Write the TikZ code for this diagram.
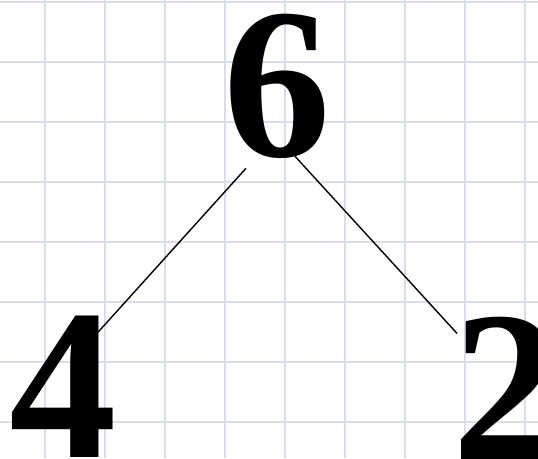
\documentclass[tikz,border=0pt]{standalone}
\usepackage{fontspec}
\setmainfont{Liberation Serif}
\usepackage{tikz}
\usepackage{xcolor}
\usetikzlibrary{positioning}
\definecolor{gridblue}{HTML}{DADDEA}

\begin{document}
\begin{tikzpicture}[x=1pt, y=1pt,
    digit/.style={inner sep=0pt, anchor=base, font=\bfseries\fontsize{215}{215}\selectfont},
    gridline/.style={gridblue, line width=2.6pt},
    branch/.style={black, line width=1.4pt}]
\useasboundingbox (0,0) rectangle (538,458);
\clip (0,0) rectangle (538,458);
\fill[white] (0,0) rectangle (538,458);
% squared paper
\foreach \gx in {45,105,...,525}
    \draw[gridline] (\gx,0) -- (\gx,458);
\foreach \gy in {36,96,...,456}
    \draw[gridline] (0,\gy) -- (538,\gy);
% the number and its two parts
\node[digit] (six) at (277,301) {6};
\node[digit] (four) at (63,1) {4};
\node[digit] (two) at (506,-1) {2};
\draw[branch] ([shift={(-31,-9)}]six.south) -- ([shift={(-19,-17)}]four.north east);
\draw[branch] ([shift={(18,3)}]six.south) -- ([shift={(5,-17)}]two.north west);
\end{tikzpicture}
\end{document}
